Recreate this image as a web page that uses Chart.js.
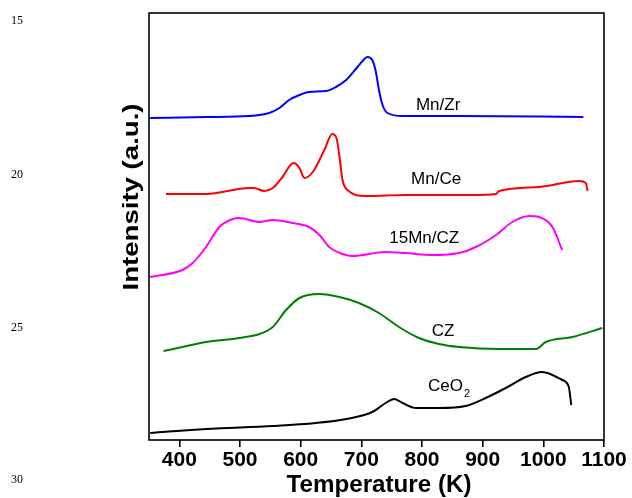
<!DOCTYPE html>
<html>
<head>
<meta charset="utf-8">
<script src="https://cdn.jsdelivr.net/npm/chart.js@4"></script>
<style>
  body { margin: 0; background: #fff; }
  #canvas { display: block; }
</style>
</head>
<body>
<canvas id="canvas" width="632" height="498"></canvas>
<script>
// x tick labels (K)
const xTicks = [400, 500, 600, 700, 800, 900, 1000, 1100];

// Mn/Zr
const mnZrT = [352, 444, 515, 548, 565, 581, 598, 614, 642, 658, 675, 691, 702, 710, 718, 724, 729, 735, 743, 768, 856, 1066];
const mnZrI = [322, 323, 324, 327, 332, 340, 345, 348, 349, 353, 360, 371, 379, 383, 380, 368, 350, 335, 327, 324, 324, 323];

// Mn/Ce
const mnCeT = [378, 444, 515, 523, 540, 554, 570, 588, 598, 606, 620, 639, 652, 659, 664, 669, 677, 707, 773, 883, 922, 927, 993, 1059, 1070, 1073];
const mnCeI = [246, 246, 252, 252, 249, 252, 263, 277, 272, 262, 268, 290, 306, 302, 283, 260, 250, 244, 245, 245, 246, 249, 253, 259, 257, 249];

// 15Mn/CZ
const mnCzT = [352, 405, 422, 444, 466, 488, 499, 532, 554, 587, 614, 631, 647, 669, 685, 740, 773, 817, 861, 889, 922, 949, 977, 993, 1015, 1031];
const mnCzI = [163, 170, 177, 193, 213, 221, 222, 218, 220, 217, 213, 205, 193, 186, 184, 188, 187, 185, 187, 193, 205, 218, 224, 223, 213, 190];

// CZ
const czT = [374, 405, 444, 499, 532, 554, 576, 598, 631, 664, 696, 729, 762, 795, 828, 861, 927, 988, 1004, 1048, 1097];
const czI = [89, 93, 98, 102, 106, 113, 130, 142, 146, 143, 137, 127, 113, 102, 96, 93, 91, 91, 98, 103, 112];

// CeO2
const ceT = [352, 444, 554, 625, 675, 718, 740, 754, 768, 790, 828, 872, 905, 938, 971, 998, 1031, 1042, 1046];
const ceI = [7, 11, 14, 17, 21, 28, 37, 41, 37, 32, 32, 34, 42, 52, 63, 68, 60, 53, 35];

function pts(t, v) {
    return t.map((x, i) => ({ x: x, y: v[i] }));
}

function series(label, t, v, color) {
    return {
        label: label,
        data: pts(t, v),
        borderColor: color,
        borderWidth: 2,
        pointRadius: 0,
        fill: false,
        cubicInterpolationMode: 'monotone'
    };
}

// curve labels, placed in data units
const curveLabels = [
    { text: 'Mn/Zr', x: 790, y: 330 },
    { text: 'Mn/Ce', x: 782, y: 256 },
    { text: '15Mn/CZ', x: 746, y: 197 },
    { text: 'CZ', x: 816, y: 104 },
    { text: 'CeO', sub: '2', x: 810, y: 49 }
];

// draw text stretched to a given width
function fitText(ctx, text, x, y, w) {
    const m = ctx.measureText(text).width;
    ctx.save();
    ctx.translate(x, y);
    ctx.scale(w / m, 1);
    ctx.fillText(text, 0, 0);
    ctx.restore();
}

const extras = {
    id: 'extras',
    afterDraw(chart) {
        const ctx = chart.ctx;
        const a = chart.chartArea;
        const xs = chart.scales.x, ys = chart.scales.y;
        ctx.save();

        // frame
        ctx.strokeStyle = '#000';
        ctx.lineWidth = 1.6;
        ctx.strokeRect(a.left, a.top, a.right - a.left, a.bottom - a.top);

        // curve labels
        ctx.fillStyle = '#000';
        ctx.textBaseline = 'alphabetic';
        ctx.textAlign = 'left';
        curveLabels.forEach(l => {
            const px = xs.getPixelForValue(l.x);
            const py = ys.getPixelForValue(l.y);
            ctx.font = '17px "Liberation Sans", Arial, sans-serif';
            ctx.fillText(l.text, px, py);
            if (l.sub) {
                const w = ctx.measureText(l.text).width;
                ctx.font = '11px "Liberation Sans", Arial, sans-serif';
                ctx.fillText(l.sub, px + w + 1, py + 6);
            }
        });

        // axis titles
        ctx.font = 'bold 23px "Liberation Sans", Arial, sans-serif';
        const tw = 185;
        fitText(ctx, 'Temperature (K)', 379 - tw / 2, 492, tw);

        ctx.save();
        ctx.translate(138, 197);
        ctx.rotate(-Math.PI / 2);
        ctx.font = 'bold 22px "Liberation Sans", Arial, sans-serif';
        fitText(ctx, 'Intensity (a.u.)', -187 / 2, 0, 187);
        ctx.restore();

        // manuscript line numbers
        ctx.font = '12px "Liberation Serif", "Times New Roman", serif';
        ctx.textBaseline = 'middle';
        [['15', 21], ['20', 175], ['25', 328], ['30', 480]].forEach(n => {
            ctx.fillText(n[0], 11, n[1]);
        });
        ctx.restore();
    }
};

const ctx = document.getElementById('canvas').getContext('2d');

new Chart(ctx, {
    type: 'line',
    data: {
        datasets: [
            series('Mn/Zr', mnZrT, mnZrI, '#0000ff'),
            series('Mn/Ce', mnCeT, mnCeI, '#ff0000'),
            series('15Mn/CZ', mnCzT, mnCzI, '#ff00ff'),
            series('CZ', czT, czI, '#008000'),
            series('CeO2', ceT, ceI, '#000000')
        ]
    },
    options: {
        responsive: false,
        animation: false,
        layout: {
            autoPadding: false,
            padding: { left: 149, right: 28, top: 13, bottom: 0 }
        },
        plugins: {
            legend: { display: false },
            tooltip: { enabled: false }
        },
        scales: {
            x: {
                type: 'linear',
                min: 350,
                max: 1100,
                afterBuildTicks: axis => { axis.ticks = xTicks.map(v => ({ value: v })); },
                afterFit: axis => { axis.height = 58; },
                border: { display: false },
                grid: {
                    drawOnChartArea: false,
                    drawTicks: true,
                    tickLength: 7,
                    color: '#000',
                    lineWidth: 1.6
                },
                ticks: {
                    color: '#000',
                    padding: 1,
                    maxRotation: 0,
                    autoSkip: false,
                    callback: v => String(v),
                    font: { family: '"Liberation Sans", Arial, sans-serif', size: 21, weight: 'bold' }
                }
            },
            y: {
                display: false,
                min: 0,
                max: 427
            }
        }
    },
    plugins: [extras]
});
</script>
</body>
</html>
